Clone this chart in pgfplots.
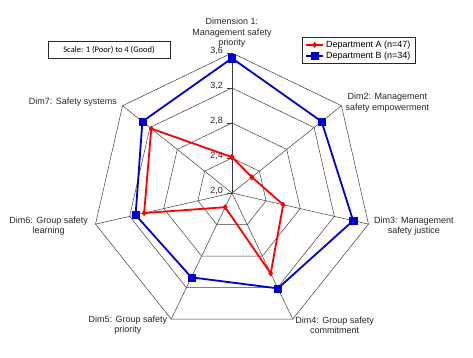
\documentclass[border=0pt]{standalone}
\usepackage{fontspec}
\setmainfont{Liberation Sans}
\newfontfamily\carlito{Carlito}
\usepackage{pgfplots}
\usepgfplotslibrary{polar}
\pgfplotsset{compat=1.18}
\usepackage{pgfplotstable}

\definecolor{depA}{RGB}{255,0,0}
\definecolor{depB}{RGB}{0,0,204}
\definecolor{gridc}{RGB}{60,60,60}

% angle (deg), Department A, Department B
\pgfplotstableread{
ang A B
90      2.41 3.54
38.571  2.29 3.31
347.143 2.60 3.42
295.714 3.02 3.21
244.286 2.18 3.07
192.857 3.03 3.13
141.429 3.18 3.31
90      2.41 3.54
}\radardata

\begin{document}
\begin{tikzpicture}[font=\fontsize{9}{10.5}\selectfont]
\begin{polaraxis}[
  hide axis, clip=false,
  xmin=0, xmax=360, ymin=0, ymax=1.6,
  scale only axis, width=280pt, height=280pt,
  legend style={at={(axis description cs:0.75,1.057)}, anchor=north west,
    draw=black!85, line width=0.6pt, font=\fontsize{9}{10}\selectfont,
    inner xsep=3pt, inner ysep=1.5pt, row sep=-1pt, cells={anchor=west}},
  legend image code/.code={\draw[#1] (0pt,0pt) -- (8.5pt,0pt) -- (17pt,0pt);
     \draw[#1,only marks] plot coordinates {(8.5pt,0pt)};},
]
% grid rings (values 2.4, 2.8, 3.2, 3.6 -> radius value-2)
\foreach \r in {0.4,0.8,1.2,1.6}{
  \edef\tmp{\noexpand\addplot[gridc, line width=0.5pt, forget plot] coordinates
   {(90,\r) (38.571,\r) (347.143,\r) (295.714,\r) (244.286,\r) (192.857,\r) (141.429,\r) (90,\r)};}
  \tmp
}
% spokes
\foreach \a in {90,38.571,347.143,295.714,244.286,192.857,141.429}{
  \edef\tmp{\noexpand\addplot[gridc, line width=0.5pt, forget plot] coordinates {(\a,0) (\a,1.6)};}
  \tmp
}
% tick marks and labels on the first spoke
\draw[gridc, line width=0.5pt] ([xshift=-5pt]axis cs:90,0) -- (axis cs:90,0);
\draw[gridc, line width=0.5pt] ([xshift=-5pt]axis cs:90,0.4) -- (axis cs:90,0.4);
\draw[gridc, line width=0.5pt] ([xshift=-5pt]axis cs:90,0.8) -- (axis cs:90,0.8);
\draw[gridc, line width=0.5pt] ([xshift=-5pt]axis cs:90,1.2) -- (axis cs:90,1.2);
\draw[gridc, line width=0.5pt] ([xshift=-5pt]axis cs:90,1.6) -- (axis cs:90,1.6);
\node[anchor=east, inner sep=1pt, text=black!85] at ([xshift=-8pt,yshift=2pt]axis cs:90,0) {2,0};
\node[anchor=east, inner sep=1pt, text=black!85] at ([xshift=-8pt,yshift=2pt]axis cs:90,0.4) {2,4};
\node[anchor=east, inner sep=1pt, text=black!85] at ([xshift=-8pt,yshift=2pt]axis cs:90,0.8) {2,8};
\node[anchor=east, inner sep=1pt, text=black!85] at ([xshift=-8pt,yshift=2pt]axis cs:90,1.2) {3,2};
\node[anchor=east, inner sep=1pt, text=black!85] at ([xshift=-8pt,yshift=2pt]axis cs:90,1.6) {3,6};

\addplot[depA, line width=1.8pt, mark=diamond*, mark size=2.8pt, mark options={solid, line width=0.4pt}]
  table[x=ang, y expr=\thisrow{A}-2] {\radardata};
\addlegendentry{Department A (n=47)\hspace{6pt}}
\addplot[depB, line width=1.8pt, mark=square*, mark size=3.6pt, mark options={solid, line width=0.4pt}]
  table[x=ang, y expr=\thisrow{B}-2] {\radardata};
\addlegendentry{Department B (n=34)\hspace{6pt}}

% category labels
\node[align=center, anchor=south, inner sep=1pt, text=black!85] at ([yshift=4pt]axis cs:90,1.6) {Dimension 1:\\Management safety\\priority};
\node[align=center, anchor=west, inner sep=1pt, text=black!85] at ([xshift=3pt,yshift=3pt]axis cs:38.571,1.6) {Dim2: Management\\safety empowerment};
\node[align=center, anchor=west, inner sep=1pt, text=black!85] at ([xshift=4.5pt,yshift=-2pt]axis cs:347.143,1.6) {Dim3: Management\\safety justice};
\node[align=center, anchor=west, inner sep=1pt, text=black!85] at ([xshift=1.5pt,yshift=-6pt]axis cs:295.714,1.6) {Dim4: Group safety\\commitment};
\node[align=center, anchor=east, inner sep=1pt, text=black!85] at ([xshift=-3pt,yshift=-6pt]axis cs:244.286,1.6) {Dim5: Group safety\\priority};
\node[align=center, anchor=east, inner sep=1pt, text=black!85] at ([xshift=-6.5pt,yshift=-2pt]axis cs:192.857,1.6) {Dim6: Group safety\\learning};
\node[align=center, anchor=east, inner sep=1pt, text=black!85] at ([xshift=-4.5pt,yshift=3.5pt]axis cs:141.429,1.6) {Dim7: Safety systems};

\coordinate (O) at (axis cs:0,0);
\end{polaraxis}
\node[draw=black!85, line width=0.6pt, minimum width=122pt, minimum height=17pt, inner sep=1pt,
  font=\carlito\fontsize{8.5}{10}\selectfont] at ([shift={(-123pt,143.5pt)}]O) {Scale: 1 (Poor) to 4 (Good)};
\path ([shift={(-232pt,-164pt)}]O) rectangle ([shift={(241pt,193pt)}]O);
\end{tikzpicture}
\end{document}
